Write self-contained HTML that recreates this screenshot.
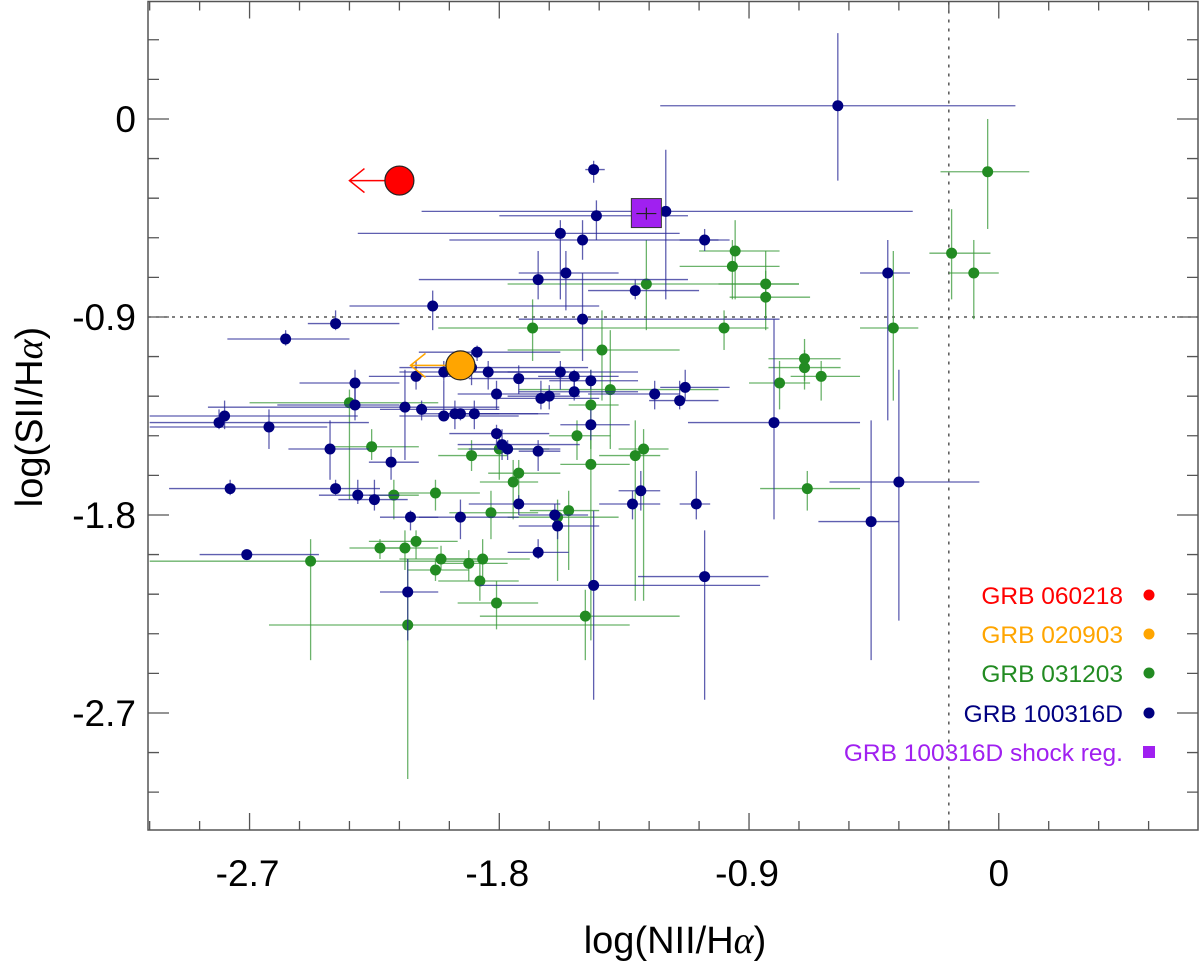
<!DOCTYPE html>
<html><head><meta charset="utf-8">
<style>
html,body{margin:0;padding:0;background:#fff;}
svg{display:block;font-family:"Liberation Sans",Arial,sans-serif;}
</style></head>
<body>
<svg id="chart" width="1200" height="963" viewBox="0 0 1200 963" xmlns="http://www.w3.org/2000/svg">
<g id="marks"></g>
<g id="axes"></g>
<text x="675" y="953" font-size="38" text-anchor="middle">log(NII/H<tspan font-family="Liberation Serif,serif" font-style="italic">α</tspan>)</text>
<text transform="translate(42,417) rotate(-90)" font-size="38" text-anchor="middle">log(SII/H<tspan font-family="Liberation Serif,serif" font-style="italic">α</tspan>)</text>
<g font-size="24.5" text-anchor="end">
<text x="1123" y="604" fill="#ff0000">GRB 060218</text>
<circle cx="1149" cy="595" r="5.5" fill="#ff0000"/>
<text x="1123" y="643" fill="#ffa500">GRB 020903</text>
<circle cx="1149" cy="634" r="5.5" fill="#ffa500"/>
<text x="1123" y="682" fill="#228b22">GRB 031203</text>
<circle cx="1149" cy="673" r="5.5" fill="#228b22"/>
<text x="1123" y="722" fill="#000080">GRB 100316D</text>
<circle cx="1149" cy="713" r="5.5" fill="#000080"/>
<text x="1123" y="761" fill="#a020f0">GRB 100316D shock reg.</text>
<rect x="1143" y="746" width="12" height="12" fill="#a020f0"/>
</g>
</svg>
<script>
// ---- data (log NII/Ha, log SII/Ha) ----
const blueX=[-0.58,-1.46,-1.20,-1.45,-1.58,-1.50,-1.06,-1.56,-1.66,-1.31,-1.50,-2.04,-2.39,-2.57,-0.40,-0.36,-0.46,-0.81,-1.06,-1.09,-1.46,-2.13,-2.71,-2.77,-2.63,-2.81,-2.79,-2.32,-2.32,-2.41,-2.39,-2.31,-2.25,-2.19,-2.14,-2.10,-2.08,-2.12,-2.00,-2.00,-1.96,-1.94,-1.89,-1.88,-1.90,-1.84,-1.81,-1.79,-1.77,-1.73,-1.65,-1.62,-1.58,-1.53,-1.53,-1.47,-1.66,-1.73,-1.94,-1.60,-1.59,-1.66,-1.47,-1.32,-1.29,-1.24,-1.15,-1.13,-1.81];
const blueXlo=[-1.22,-1.49,-2.08,-1.80,-2.31,-1.98,-1.15,-1.73,-2.09,-1.48,-1.73,-2.34,-2.49,-2.78,-0.50,-0.61,-0.65,-1.12,-1.30,-1.15,-1.87,-2.23,-2.88,-2.99,-3.06,-3.06,-3.06,-2.52,-2.60,-2.56,-2.52,-2.45,-2.38,-2.27,-2.85,-2.27,-2.23,-2.23,-2.16,-2.16,-2.09,-2.02,-2.02,-2.09,-2.16,-2.02,-1.98,-1.95,-1.91,-1.91,-1.80,-1.77,-1.77,-1.66,-1.73,-1.62,-1.73,-1.91,-2.09,-1.73,-1.73,-1.77,-1.58,-1.44,-1.37,-1.48,-1.26,-1.22,-1.95];
const blueXhi=[0.06,-1.42,-0.31,-1.12,-1.15,-1.01,-0.97,-1.37,-1.12,-1.08,-0.79,-1.44,-2.16,-2.34,-0.32,-0.07,-0.36,-0.50,-0.83,-1.04,-0.86,-2.02,-2.45,-2.52,-2.42,-2.27,-2.31,-2.16,-2.16,-2.27,-2.23,-2.16,-2.13,-2.09,-1.80,-1.91,-1.80,-2.02,-1.58,-1.73,-1.66,-1.80,-1.62,-1.58,-1.48,-1.55,-1.62,-1.51,-1.58,-1.51,-1.44,-1.51,-1.30,-1.37,-1.30,-1.30,-1.58,-1.58,-1.73,-1.48,-1.44,-1.55,-1.33,-1.22,-1.22,-1.15,-1.01,-0.97,-1.58];
const blueY=[0.06,-0.23,-0.42,-0.44,-0.52,-0.55,-0.55,-0.70,-0.73,-0.78,-0.91,-0.85,-0.93,-1.00,-0.70,-1.65,-1.83,-1.38,-2.08,-1.75,-2.12,-2.15,-1.98,-1.68,-1.40,-1.38,-1.35,-1.20,-1.30,-1.50,-1.68,-1.71,-1.73,-1.56,-1.31,-1.17,-1.32,-1.81,-1.15,-1.35,-1.34,-1.34,-1.34,-1.06,-1.13,-1.15,-1.43,-1.48,-1.50,-1.18,-1.27,-1.26,-1.15,-1.17,-1.24,-1.19,-1.51,-1.75,-1.81,-1.80,-1.85,-1.97,-1.39,-1.75,-1.69,-1.25,-1.28,-1.22,-1.25];
const blueYlo=[-0.28,-0.29,-0.82,-0.55,-0.82,-0.64,-0.60,-0.87,-0.82,-0.82,-1.10,-0.96,-0.96,-1.03,-1.37,-2.28,-2.46,-1.82,-2.64,-1.82,-2.64,-2.37,-2.00,-1.71,-1.50,-1.41,-1.41,-1.28,-1.37,-1.64,-1.71,-1.75,-1.78,-1.64,-1.55,-1.23,-1.37,-1.87,-1.19,-1.37,-1.41,-1.37,-1.41,-1.10,-1.21,-1.23,-1.48,-1.55,-1.55,-1.25,-1.32,-1.32,-1.23,-1.23,-1.28,-1.23,-1.60,-1.80,-1.91,-1.87,-1.91,-2.00,-1.46,-1.82,-1.78,-1.32,-1.32,-1.28,-1.32];
const blueYhi=[0.39,-0.19,-0.14,-0.37,-0.46,-0.46,-0.50,-0.60,-0.60,-0.73,-0.70,-0.78,-0.87,-0.96,-0.55,-1.14,-1.37,-0.91,-1.87,-1.60,-1.78,-2.00,-1.96,-1.64,-1.32,-1.32,-1.28,-1.14,-1.19,-1.37,-1.64,-1.64,-1.64,-1.50,-1.14,-1.10,-1.28,-1.78,-1.10,-1.19,-1.28,-1.32,-1.28,-1.03,-1.05,-1.10,-1.39,-1.41,-1.46,-1.12,-1.19,-1.21,-1.10,-1.14,-1.19,-1.14,-1.46,-1.71,-1.73,-1.75,-1.78,-1.91,-1.32,-1.69,-1.60,-1.19,-1.19,-1.14,-1.19];

const greenX=[-0.04,-0.17,-0.09,-0.38,-0.84,-0.84,-0.95,-0.96,-0.99,-1.27,-1.68,-1.43,-1.40,-1.47,-0.70,-0.70,-0.64,-0.79,-0.69,-1.47,-1.52,-1.28,-1.31,-1.73,-1.75,-1.80,-1.90,-1.83,-1.86,-1.87,-1.81,-1.91,-2.01,-2.03,-2.03,-2.10,-2.14,-2.23,-2.26,-2.34,-2.18,-2.13,-2.48,-1.59,-1.55,-1.49];
const greenXlo=[-0.21,-0.25,-0.18,-0.50,-1.01,-0.97,-1.08,-1.15,-1.12,-1.77,-2.02,-1.77,-1.73,-1.55,-0.83,-0.83,-0.75,-0.90,-0.86,-1.58,-1.62,-1.37,-1.44,-1.84,-1.87,-1.95,-2.02,-1.98,-2.02,-2.02,-1.95,-2.02,-2.16,-2.13,-2.20,-2.27,-2.23,-2.34,-2.42,-2.70,-2.27,-2.63,-3.06,-1.77,-1.69,-1.87];
const greenXhi=[0.11,-0.03,0.00,-0.29,-0.72,-0.68,-0.79,-0.79,-0.83,-0.72,-1.12,-1.15,-1.01,-1.37,-0.57,-0.57,-0.50,-0.68,-0.50,-1.33,-1.40,-1.19,-1.22,-1.58,-1.66,-1.62,-1.77,-1.66,-1.69,-1.73,-1.66,-1.77,-1.87,-1.91,-1.87,-1.95,-2.02,-2.13,-2.09,-2.02,-2.09,-1.33,-1.87,-1.37,-1.44,-1.15];
const greenY=[-0.24,-0.61,-0.70,-0.95,-0.75,-0.81,-0.60,-0.67,-0.95,-0.75,-0.95,-1.05,-1.23,-1.30,-1.09,-1.13,-1.17,-1.20,-1.68,-1.57,-1.44,-1.50,-1.53,-1.61,-1.65,-1.50,-1.53,-1.79,-2.00,-2.10,-2.20,-2.02,-2.00,-2.05,-1.70,-1.92,-1.95,-1.95,-1.49,-1.29,-1.71,-2.30,-2.01,-1.81,-1.78,-2.26];
const greenYlo=[-0.50,-0.82,-0.91,-1.28,-0.91,-0.96,-0.82,-0.82,-1.05,-0.96,-1.10,-1.28,-1.50,-1.50,-1.19,-1.23,-1.28,-1.32,-1.78,-2.37,-1.55,-2.19,-2.19,-1.73,-1.82,-1.64,-1.60,-1.91,-2.10,-2.19,-2.32,-2.10,-2.05,-2.10,-1.78,-2.00,-2.05,-2.00,-1.55,-1.73,-1.82,-3.00,-2.46,-2.10,-2.05,-2.46];
const greenYhi=[0.00,-0.41,-0.55,-0.60,-0.60,-0.69,-0.46,-0.55,-0.87,-0.55,-0.82,-0.87,-0.96,-1.14,-1.00,-1.05,-1.10,-1.10,-1.60,-1.41,-1.37,-1.41,-1.37,-1.55,-1.55,-1.41,-1.46,-1.69,-1.91,-2.00,-2.10,-1.96,-1.94,-2.00,-1.64,-1.87,-1.87,-1.91,-1.41,-1.23,-1.64,-2.00,-1.91,-1.73,-1.69,-2.14];

const redPoint=[-2.16,-0.28];      // upper limit in x
const orangePoint=[-1.94,-1.12];   // upper limit in x
const shockPoint=[-1.27,-0.43];
const limitArrow=0.18;

const xTickLabels=["-2.7","-1.8","-0.9","0"];
const xTickValues=[-2.7,-1.8,-0.9,0];
const yTickLabels=["0","-0.9","-1.8","-2.7"];
const yTickValues=[0,-0.9,-1.8,-2.7];
const xRefLine=-0.18, yRefLine=-0.9;

// ---- scales ----
const X0=148,X1=1198,Y0=1.5,Y1=830;
const xmin=-3.066,xmax=0.718,ymin=-3.232,ymax=0.534;
const sx=v=>X0+(v-xmin)/(xmax-xmin)*(X1-X0);
const sy=v=>Y1-(v-ymin)/(ymax-ymin)*(Y1-Y0);
const NS="http://www.w3.org/2000/svg";
const marks=document.getElementById('marks');
const axes=document.getElementById('axes');
function mk(tag,attrs,parent){const e=document.createElementNS(NS,tag);for(const k in attrs)e.setAttribute(k,attrs[k]);parent.appendChild(e);return e;}

let rl=mk('line',{x1:sx(xRefLine),x2:sx(xRefLine),y1:Y0,y2:Y1,stroke:'#555','stroke-width':1.5,'stroke-dasharray':'3,6'},marks);


rl=mk('line',{x1:X0,x2:X1,y1:sy(yRefLine),y2:sy(yRefLine),stroke:'#333','stroke-width':1.2,'stroke-dasharray':'3,5'},marks);



function series(xs,xl,xh,ys,yl,yh,col,ecol,name){
  const g=mk('g',{},marks);
  
  
  for(let i=0;i<xs.length;i++){
    const h=mk('line',{x1:sx(xl[i]),x2:sx(xh[i]),y1:sy(ys[i]),y2:sy(ys[i]),stroke:ecol,'stroke-width':1.3,'stroke-opacity':0.75},g);
    
    
    const v=mk('line',{x1:sx(xs[i]),x2:sx(xs[i]),y1:sy(yl[i]),y2:sy(yh[i]),stroke:ecol,'stroke-width':1.3,'stroke-opacity':0.75},g);
    
    
  }
  for(let i=0;i<xs.length;i++){
    const c=mk('circle',{cx:sx(xs[i]),cy:sy(ys[i]),r:5.5,fill:col},g);
    
    
  }
}
series(greenX,greenXlo,greenXhi,greenY,greenYlo,greenYhi,'#228b22','#3a9a3a','grb031203');
series(blueX,blueXlo,blueXhi,blueY,blueYlo,blueYhi,'#000080','#2a2a96','grb100316d');

const sq=mk('rect',{x:sx(shockPoint[0])-15,y:sy(shockPoint[1])-15,width:30,height:29,fill:'#a020f0',stroke:'#333','stroke-width':1},marks);


const sc=mk('path',{d:`M${sx(shockPoint[0])-10},${sy(shockPoint[1])}h20M${sx(shockPoint[0])},${sy(shockPoint[1])-6}v12`,stroke:'#222','stroke-width':1.2},marks);



function limitPt(p,col,name){
  const cx=sx(p[0]),cy=sy(p[1]),tip=sx(p[0]-limitArrow);
  const a=mk('path',{d:`M${cx},${cy}H${tip}M${tip+15},${cy-12}L${tip},${cy}L${tip+15},${cy+12}`,stroke:col,'stroke-width':1.5,fill:'none'},marks);
  
  
  const c=mk('circle',{cx:cx,cy:cy,r:14.5,fill:col,stroke:'#222','stroke-width':1.2},marks);
  
  
}
limitPt(redPoint,'#ff0000','grb060218');
limitPt(orangePoint,'#ffa500','grb020903');

const fr=mk('rect',{x:X0,y:Y0,width:X1-X0,height:Y1-Y0,fill:'none',stroke:'#555','stroke-width':1.5},axes);


let tp='';
for(let k=-20;k<=6;k++){const v=k*0.18;const x=sx(v);if(x<X0+1||x>X1-1)continue;const maj=Math.abs(k%5)===0;const L=maj?17:9;tp+=`M${x},${Y1}v${-L}M${x},${Y0}v${L}`;}
for(let k=-20;k<=6;k++){const v=k*0.18;const y=sy(v);if(y<Y0+1||y>Y1-1)continue;const maj=Math.abs(k%5)===0;const L=maj?21:11;tp+=`M${X0},${y}h${L}M${X1},${y}h${-L}`;}
const tk=mk('path',{d:tp,stroke:'#555','stroke-width':1.3,fill:'none'},axes);


xTickLabels.forEach((s,i)=>{const t=mk('text',{x:sx(xTickValues[i])+(s[0]==='-'?-2:0),y:886,'font-size':37,'text-anchor':'middle'},axes);t.textContent=s;
 
 });
yTickLabels.forEach((s,i)=>{const t=mk('text',{x:136,y:sy(yTickValues[i])+13,'font-size':37,'text-anchor':'end'},axes);t.textContent=s;
 
 });
</script>
</body></html>
